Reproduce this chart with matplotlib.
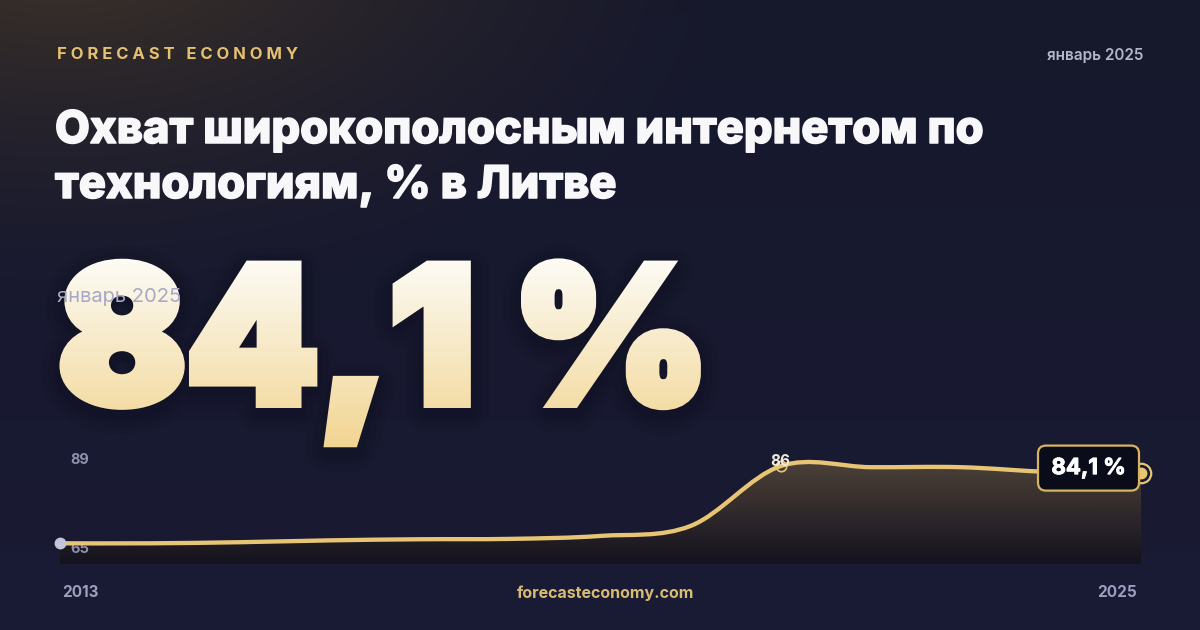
import numpy as np
import matplotlib
matplotlib.use('Agg')
import matplotlib.pyplot as plt
import matplotlib.patheffects as pe
from matplotlib.path import Path
from matplotlib.patches import PathPatch, FancyBboxPatch
from matplotlib.patheffects import AbstractPathEffect
from matplotlib.transforms import Bbox, IdentityTransform

# data
years = [2013, 2014, 2015, 2016, 2017, 2018, 2019, 2020, 2021, 2022, 2023, 2024, 2025]
coverage = [65.1, 65.1, 65.4, 65.9, 66.2, 66.3, 67.1, 69.8, 86.0, 85.7, 85.7, 84.4, 84.1]
ytick_vals = [89, 65]
peak_year = 2021
peak_label = "86"

brand = "FORECAST ECONOMY"
period = "январь 2025"
title_lines = ["Охват широкополосным интернетом по", "технологиям, % в Литве"]
big_value = "84,1 %"
site = "forecasteconomy.com"

FONT = ['Inter', 'DejaVu Sans']
GOLD = '#e8c574'


class GradientFill(AbstractPathEffect):
    '''fills (and fattens) the glyphs with a vertical gradient, band by band'''
    def __init__(self, top, bottom, stroke=7.0, nbands=70):
        super().__init__()
        self.top = np.array(matplotlib.colors.to_rgb(top))
        self.bottom = np.array(matplotlib.colors.to_rgb(bottom))
        self.stroke = stroke
        self.nbands = nbands

    def draw_path(self, renderer, gc, tpath, affine, rgbFace=None):
        ext = affine.transform_path(tpath).get_extents()
        pad = renderer.points_to_pixels(self.stroke)
        ytop = int(np.ceil(ext.y1 + pad))
        ybot = int(np.floor(ext.y0 - pad))
        edges = np.linspace(ytop, ybot, self.nbands + 1).round()
        for i in range(self.nbands):
            t = (i + 0.5) / self.nbands
            col = tuple(self.top * (1 - t) + self.bottom * t)
            gc0 = renderer.new_gc()
            gc0.copy_properties(gc)
            gc0.set_clip_rectangle(Bbox.from_extents(ext.x0 - pad - 2, edges[i + 1],
                                                     ext.x1 + pad + 2, edges[i]))
            gc0.set_foreground(col)
            gc0.set_linewidth(self.stroke)
            gc0.set_joinstyle('miter')
            renderer.draw_path(gc0, tpath, affine, col)
            gc0.restore()


class SoftShadow(AbstractPathEffect):
    '''a few wide, faint black strokes to fake a blurred drop shadow'''
    def __init__(self, offset=(0, -4), widths=(34, 24, 15), alpha=0.05):
        super().__init__(offset)
        self.widths = widths
        self.alpha = alpha

    def draw_path(self, renderer, gc, tpath, affine, rgbFace=None):
        for lw in self.widths:
            gc0 = renderer.new_gc()
            gc0.copy_properties(gc)
            gc0.set_linewidth(lw)
            gc0.set_foreground('black')
            gc0.set_alpha(self.alpha)
            gc0.set_joinstyle('round')
            renderer.draw_path(gc0, tpath, affine + self._offset_transform(renderer), (0, 0, 0))
            gc0.restore()


def cardinal_path(xs, ys):
    '''Catmull-Rom curve through the points, as cubic bezier segments'''
    pts = np.column_stack([xs, ys]).astype(float)
    ext = np.vstack([pts[0], pts, pts[-1]])
    verts = [pts[0]]
    codes = [Path.MOVETO]
    for i in range(len(pts) - 1):
        p0, p1, p2, p3 = ext[i], ext[i + 1], ext[i + 2], ext[i + 3]
        verts += [p1 + (p2 - p0) / 6, p2 - (p3 - p1) / 6, p2]
        codes += [Path.CURVE4] * 3
    return verts, codes


def fatten(color, lw):
    return [pe.Stroke(linewidth=lw, foreground=color), pe.Normal()]


fig = plt.figure(figsize=(12, 6.3), dpi=100)

# background layer in pixel coordinates
bg = fig.add_axes([0, 0, 1, 1])
bg.set_xlim(0, 1200)
bg.set_ylim(630, 0)
bg.set_axis_off()

H, W = 630, 1200
yy, xx = np.mgrid[0:H, 0:W]
base_top = np.array([22, 24, 44]) / 255
base_bot = np.array([26, 27, 52]) / 255
warm = np.array([64, 52, 40]) / 255
v = (yy / H)[..., None]
img = base_top * (1 - v) + base_bot * v
d = np.sqrt(((xx - 60) / 720.0) ** 2 + ((yy + 60) / 370.0) ** 2)
wgt = (np.clip(1 - d, 0, 1) ** 1.5)[..., None]
img = img * (1 - wgt) + warm * wgt
bg.imshow(img, extent=[0, 1200, 630, 0], aspect='auto', zorder=0)

# header
spaced = '\u2009\u200a'.join(brand)
bg.text(57, 59, spaced, color='#e5c16f', fontsize=12, fontweight='bold',
        family=FONT, ha='left', va='baseline')
bg.text(1143, 60, period, color='#b3b5cb', fontsize=11, fontweight='semibold',
        family=FONT, ha='right', va='baseline')

for i, line in enumerate(title_lines):
    bg.text(55, 143 + 55 * i, line, color='#f8f8fb', fontsize=32.5, fontweight='heavy',
            family=FONT, ha='left', va='baseline', path_effects=fatten('#f8f8fb', 1.1))

# big number with gradient fill
bg.text(58, 403, big_value, color='#f6e6b8', fontsize=136, fontweight='black',
        family=FONT, ha='left', va='baseline', zorder=3,
        path_effects=[SoftShadow(), GradientFill('#fdfcf8', '#f1d38e', stroke=7.2)])
bg.text(57, 302, period, color='#a6a8c6', fontsize=14.5, family=FONT,
        ha='left', va='baseline', zorder=4)

bg.text(606, 598, site, color='#d8bb72', fontsize=11.5, fontweight='bold',
        family=FONT, ha='center', va='baseline')

# chart
ax = fig.add_axes([60 / 1200, 66 / 630, 1081 / 1200, 109 / 630])
ax.set_zorder(2)
ax.patch.set_alpha(0)
ax.set_xlim(years[0], years[-1])
ax.set_ylim(59.5, 89)
ax.set_axis_off()

verts, codes = cardinal_path(years, coverage)
y0 = ax.get_ylim()[0]
fill_path = Path(verts + [(years[-1], y0), (years[0], y0), (years[0], y0)],
                 codes + [Path.LINETO, Path.LINETO, Path.CLOSEPOLY])
fill_patch = PathPatch(fill_path, facecolor='none', edgecolor='none')
ax.add_patch(fill_patch)

top_c = np.array([80, 68, 58]) / 255
bot_c = np.array([20, 18, 30]) / 255
t = np.linspace(0, 1, 200)[:, None]
grad = (bot_c * (1 - t) + top_c * t)[:, None, :]
gim = ax.imshow(grad, extent=[years[0], years[-1], ax.get_ylim()[0], ax.get_ylim()[1]],
                origin='lower', aspect='auto', zorder=1)
gim.set_clip_path(fill_patch)

ax.add_patch(PathPatch(Path(verts, codes), facecolor='none', edgecolor=GOLD,
                       lw=3.1, capstyle='round', zorder=3))

# y labels, under the line
for val in ytick_vals:
    ax.annotate(str(val), xy=(years[0], val), xytext=(10, -5), textcoords='offset pixels',
                color='#8e90ad', fontsize=10.5, fontweight='bold', family=FONT,
                ha='left', va='center', zorder=2, annotation_clip=False)

# year labels
ax.annotate(str(years[0]), xy=(years[0], y0), xytext=(2, -33), textcoords='offset pixels',
            color='#9c9fbd', fontsize=11, fontweight='bold', family=FONT,
            ha='left', va='baseline', annotation_clip=False)
ax.annotate(str(years[-1]), xy=(years[-1], y0), xytext=(-4, -33), textcoords='offset pixels',
            color='#9c9fbd', fontsize=11, fontweight='bold', family=FONT,
            ha='right', va='baseline', annotation_clip=False)

# markers
ax.plot(years[0], coverage[0], 'o', ms=7.5, color='#c3c5dc', zorder=4, clip_on=False)
pk = years.index(peak_year)
ax.plot(years[pk], coverage[pk], 'o', ms=7.5, mfc='none', mec=GOLD, mew=1.2, zorder=4)
ax.annotate(peak_label, xy=(years[pk], coverage[pk]), xytext=(0, 5), textcoords='offset pixels',
            color='#efe9da', fontsize=11, fontweight='bold', family=FONT,
            ha='center', va='center', zorder=5)

ax.plot(years[-1], coverage[-1], 'o', ms=14, mfc='none', mec=GOLD, mew=1.6, zorder=6, clip_on=False)
ax.plot(years[-1], coverage[-1], 'o', ms=7.5, color=GOLD, zorder=6, clip_on=False)

# value box next to the last point
px, py = ax.transData.transform((years[-1], coverage[-1]))
bw, bh = 101, 45
box = FancyBboxPatch((px - 103, py + 5 - bh / 2), bw, bh,
                     boxstyle='round,pad=0,rounding_size=8', transform=IdentityTransform(),
                     facecolor='#0b0c19', edgecolor='#d9b45f', lw=1.6, zorder=5)
fig.patches.append(box)
box.set_figure(fig)
fig.text((px - 103 + bw / 2) / 1200, (py + 5) / 630, big_value, color='white',
         fontsize=16, fontweight='bold', family=FONT, ha='center', va='center', zorder=6,
         path_effects=fatten('white', 0.7))

fig.savefig('out.png', dpi=100)
